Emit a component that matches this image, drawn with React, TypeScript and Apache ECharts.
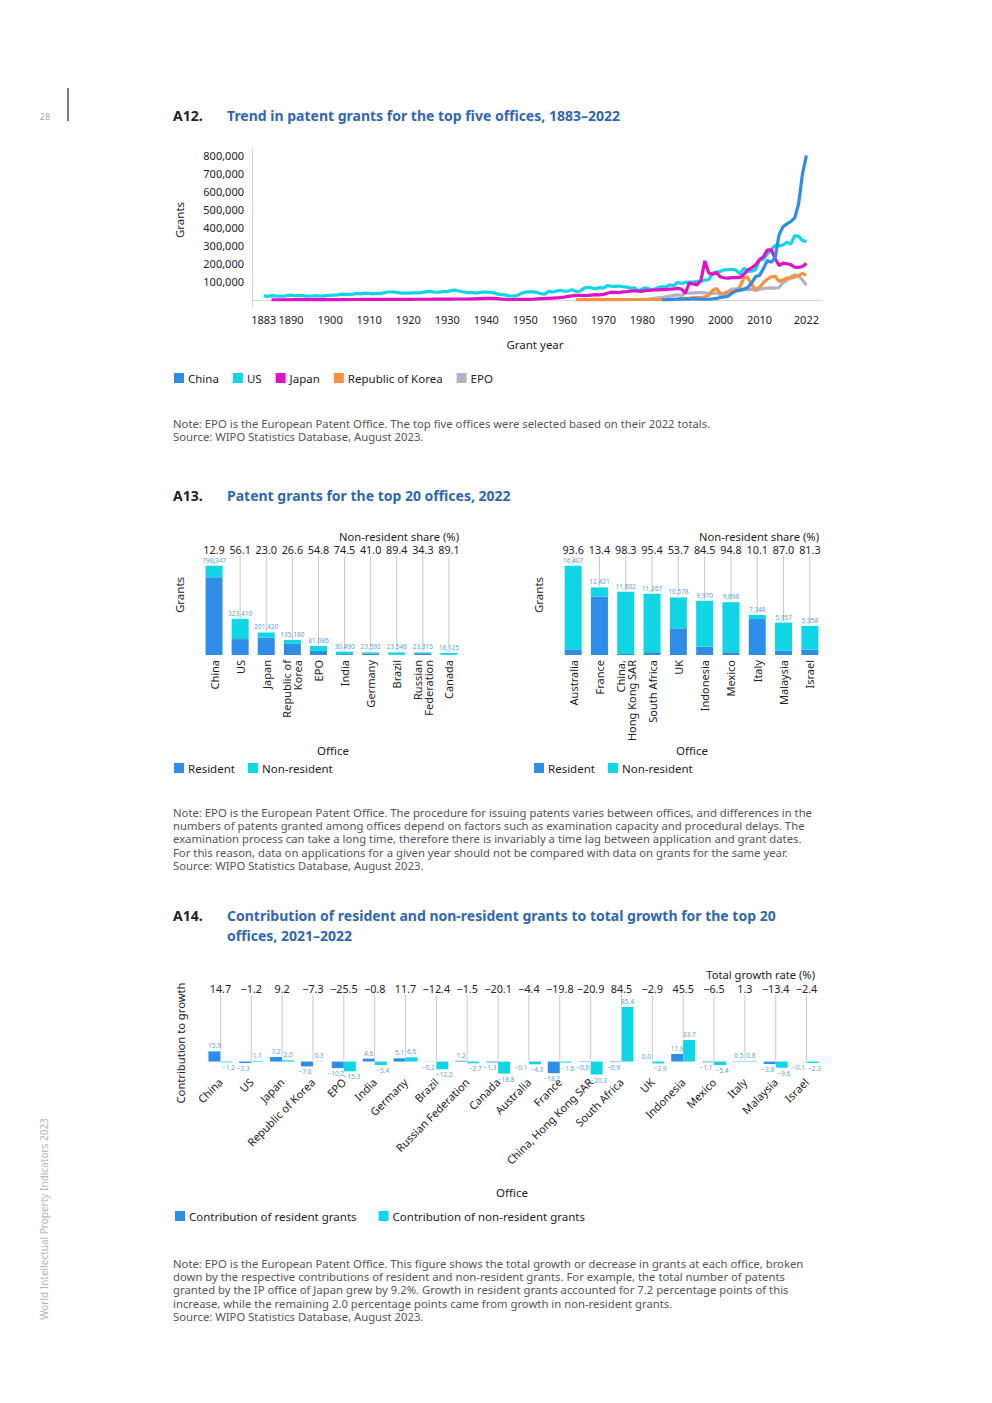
import React, { useEffect, useRef } from 'react';
import * as echarts from 'echarts';

const FONT = "'Noto Sans', 'Open Sans', sans-serif";
const C_BLUE = '#2e8de6';
const C_CYAN = '#10d5e5';
const C_MAG = '#e011c6';
const C_ORANGE = '#f7913f';
const C_GREY = '#b3b3c8';
const C_TITLE = '#2f67b1';
const C_LABEL = '#5a9fdc';
const C_GUIDE = '#c8c8c8';

// ---------- A12 data: [year, grants] ----------
const usGrants: [number, number][] = [
  [1883, 21200], [1884, 19100], [1885, 23300], [1886, 21800], [1887, 20400], [1888, 19500], [1889, 23300],
  [1890, 25300], [1891, 22300], [1892, 22600], [1893, 22800], [1894, 19900], [1895, 20900], [1896, 21800],
  [1897, 22100], [1898, 20400], [1899, 23300], [1900, 24600], [1901, 25500], [1902, 27100], [1903, 31000],
  [1904, 30300], [1905, 29700], [1906, 31100], [1907, 35900], [1908, 32800], [1909, 36600], [1910, 35100],
  [1911, 32900], [1912, 36200], [1913, 33900], [1914, 39900], [1915, 43100], [1916, 43900], [1917, 40900],
  [1918, 38500], [1919, 36800], [1920, 37100], [1921, 37800], [1922, 38400], [1923, 38600], [1924, 42600],
  [1925, 46400], [1926, 44700], [1927, 41700], [1928, 42400], [1929, 45300], [1930, 45200], [1931, 51800],
  [1932, 53500], [1933, 48800], [1934, 44400], [1935, 40600], [1936, 39800], [1937, 37700], [1938, 38100],
  [1939, 43100], [1940, 42200], [1941, 41100], [1942, 38500], [1943, 31100], [1944, 28100], [1945, 25700],
  [1946, 21800], [1947, 20100], [1948, 24000], [1949, 35100], [1950, 43000], [1951, 44300], [1952, 43600],
  [1953, 40500], [1954, 33800], [1955, 30400], [1956, 46800], [1957, 42700], [1958, 48300], [1959, 52400],
  [1960, 47200], [1961, 48400], [1962, 55700], [1963, 45700], [1964, 47400], [1965, 62900], [1966, 68400],
  [1967, 65700], [1968, 59100], [1969, 67600], [1970, 64400], [1971, 78300], [1972, 74800], [1973, 74100],
  [1974, 76300], [1975, 72000], [1976, 70200], [1977, 65300], [1978, 66100], [1979, 48900], [1980, 61800],
  [1981, 65800], [1982, 57900], [1983, 56900], [1984, 67200], [1985, 71700], [1986, 70900], [1987, 82900],
  [1988, 77900], [1989, 95500], [1990, 90400], [1991, 96500], [1992, 97400], [1993, 98300], [1994, 101700],
  [1995, 101400], [1996, 109600], [1997, 111900], [1998, 147500], [1999, 153500], [2000, 157500],
  [2001, 166000], [2002, 167300], [2003, 169000], [2004, 164300], [2005, 143800], [2006, 173800],
  [2007, 157300], [2008, 157800], [2009, 167300], [2010, 219600], [2011, 224500], [2012, 253200],
  [2013, 277800], [2014, 300700], [2015, 298400], [2016, 303000], [2017, 318800], [2018, 307800],
  [2019, 354400], [2020, 352000], [2021, 327300], [2022, 323410],
];

const jpGrants: [number, number][] = [
  [1885, 100], [1888, 200], [1890, 400], [1893, 500], [1896, 600], [1900, 1000], [1903, 1200], [1906, 1500],
  [1910, 2000], [1913, 1800], [1916, 1900], [1920, 2500], [1923, 2800], [1926, 3200], [1930, 4000],
  [1933, 4200], [1936, 4500], [1938, 6000], [1940, 8000], [1942, 7500], [1944, 4000], [1946, 1500],
  [1948, 1800], [1950, 2500], [1952, 4000], [1954, 6000], [1956, 8000], [1958, 10000], [1960, 15000],
  [1961, 19000], [1962, 22000], [1963, 24000], [1964, 25000], [1965, 23000], [1966, 24000], [1967, 26000],
  [1968, 28000], [1969, 27000], [1970, 30000], [1971, 36000], [1972, 42000], [1973, 41000], [1974, 40000],
  [1975, 44000], [1976, 45000], [1977, 48000], [1978, 50000], [1979, 48000], [1980, 47000], [1981, 52000],
  [1982, 52000], [1983, 54000], [1984, 55000], [1985, 56000], [1986, 57000], [1987, 59000], [1988, 60000],
  [1989, 63300], [1990, 59400], [1991, 36100], [1992, 92100], [1993, 88400], [1994, 82400], [1995, 109100],
  [1996, 215100], [1997, 147700], [1998, 141400], [1999, 150100], [2000, 125900], [2001, 121700],
  [2002, 120000], [2003, 122500], [2004, 124200], [2005, 122900], [2006, 141400], [2007, 165000],
  [2008, 177000], [2009, 193300], [2010, 222700], [2011, 238300], [2012, 274800], [2013, 277100],
  [2014, 227100], [2015, 189400], [2016, 203100], [2017, 199600], [2018, 194500], [2019, 179900],
  [2020, 179400], [2021, 184400], [2022, 201420],
];

const cnGrants: [number, number][] = [
  [1985, 100], [1986, 500], [1987, 1000], [1988, 2500], [1989, 3500], [1990, 3838], [1991, 4122],
  [1992, 3966], [1993, 6556], [1994, 3883], [1995, 3393], [1996, 2976], [1997, 3494], [1998, 4733],
  [1999, 7637], [2000, 12683], [2001, 16296], [2002, 21473], [2003, 37154], [2004, 49360], [2005, 53305],
  [2006, 57786], [2007, 67948], [2008, 93706], [2009, 128489], [2010, 135110], [2011, 172113],
  [2012, 217105], [2013, 207688], [2014, 233228], [2015, 359316], [2016, 404208], [2017, 420144],
  [2018, 432147], [2019, 452804], [2020, 530127], [2021, 695946], [2022, 798347],
];

const krGrants: [number, number][] = [
  [1963, 300], [1966, 300], [1970, 500], [1975, 1000], [1980, 1632], [1985, 2268], [1987, 2762],
  [1989, 3972], [1990, 7762], [1991, 8248], [1992, 8552], [1993, 11446], [1994, 11683], [1995, 12512],
  [1996, 16516], [1997, 24579], [1998, 52900], [1999, 62635], [2000, 35956], [2001, 34675], [2002, 45298],
  [2003, 44165], [2004, 49068], [2005, 73512], [2006, 120790], [2007, 123705], [2008, 83523],
  [2009, 56732], [2010, 68843], [2011, 94720], [2012, 113467], [2013, 127330], [2014, 129786],
  [2015, 101873], [2016, 108875], [2017, 120662], [2018, 119012], [2019, 125795], [2020, 134766],
  [2021, 145882], [2022, 135180],
];

const epGrants: [number, number][] = [
  [1980, 0], [1981, 1700], [1982, 4900], [1983, 8000], [1984, 11000], [1985, 12000], [1986, 16000],
  [1987, 20000], [1988, 24000], [1989, 28000], [1990, 24757], [1991, 36000], [1992, 37000], [1993, 37000],
  [1994, 40000], [1995, 40000], [1996, 39000], [1997, 36000], [1998, 35000], [1999, 38000], [2000, 27000],
  [2001, 34000], [2002, 47000], [2003, 60000], [2004, 59000], [2005, 53000], [2006, 62000], [2007, 54000],
  [2008, 59000], [2009, 52000], [2010, 58000], [2011, 62000], [2012, 65000], [2013, 66000], [2014, 64000],
  [2015, 68000], [2016, 96000], [2017, 106000], [2018, 128000], [2019, 138000], [2020, 133000],
  [2021, 109000], [2022, 81086],
];

const a12YearTicks = [1883, 1890, 1900, 1910, 1920, 1930, 1940, 1950, 1960, 1970, 1980, 1990, 2000, 2010, 2022];
const a12GrantTicks = [100000, 200000, 300000, 400000, 500000, 600000, 700000, 800000];

// ---------- A13 data ----------
const a13LeftOffices = ['China', 'US', 'Japan', 'Republic of\nKorea', 'EPO', 'India', 'Germany', 'Brazil', 'Russian\nFederation', 'Canada'];
const a13LeftTotals = [798347, 323410, 201420, 135180, 81086, 30490, 23592, 23546, 23315, 18125];
const a13LeftShares = [12.9, 56.1, 23.0, 26.6, 54.8, 74.5, 41.0, 89.4, 34.3, 89.1];

const a13RightOffices = ['Australia', 'France', 'China,\nHong Kong SAR', 'South Africa', 'UK', 'Indonesia', 'Mexico', 'Italy', 'Malaysia', 'Israel'];
const a13RightTotals = [16407, 12421, 11602, 11267, 10578, 9970, 9698, 7348, 5957, 5358];
const a13RightShares = [93.6, 13.4, 98.3, 95.4, 53.7, 84.5, 94.8, 10.1, 87.0, 81.3];

// ---------- A14 data ----------
const a14Offices = ['China', 'US', 'Japan', 'Republic of Korea', 'EPO', 'India', 'Germany', 'Brazil', 'Russian Federation', 'Canada',
  'Australia', 'France', 'China, Hong Kong SAR', 'South Africa', 'UK', 'Indonesia', 'Mexico', 'Italy', 'Malaysia', 'Israel'];
const a14Total = [14.7, -1.2, 9.2, -7.3, -25.5, -0.8, 11.7, -12.4, -1.5, -20.1, -4.4, -19.8, -20.9, 84.5, -2.9, 45.5, -6.5, 1.3, -13.4, -2.4];
const a14Resident = [15.9, -2.3, 7.2, -7.6, -10.2, 4.6, 5.1, -0.2, 1.2, -1.3, -0.1, -18.2, -0.6, -0.9, 0.0, 11.8, -1.1, 0.5, -3.8, -0.1];
const a14NonResident = [-1.2, 1.1, 2.0, 0.3, -15.3, -5.4, 6.6, -12.2, -2.7, -18.8, -4.3, -1.6, -20.3, 85.4, -2.9, 33.7, -5.4, 0.8, -9.6, -2.3];

// ---------- texts ----------
const note12 = 'Note: EPO is the European Patent Office. The top five offices were selected based on their 2022 totals.\nSource: WIPO Statistics Database, August 2023.';
const note13 = 'Note: EPO is the European Patent Office. The procedure for issuing patents varies between offices, and differences in the\nnumbers of patents granted among offices depend on factors such as examination capacity and procedural delays. The\nexamination process can take a long time, therefore there is invariably a time lag between application and grant dates.\nFor this reason, data on applications for a given year should not be compared with data on grants for the same year.\nSource: WIPO Statistics Database, August 2023.';
const note14 = 'Note: EPO is the European Patent Office. This figure shows the total growth or decrease in grants at each office, broken\ndown by the respective contributions of resident and non-resident grants. For example, the total number of patents\ngranted by the IP office of Japan grew by 9.2%. Growth in resident grants accounted for 7.2 percentage points of this\nincrease, while the remaining 2.0 percentage points came from growth in non-resident grants.\nSource: WIPO Statistics Database, August 2023.';

const fmtInt = (v: number) => Math.round(v).toLocaleString('en-US');
const fmtPct = (v: number) => (v < 0 ? '\u2212' : '') + Math.abs(v).toFixed(1);

function txt(text: string, x: number, y: number, style: any = {}, rotation = 0) {
  return {
    type: 'text', x, y, rotation, silent: true,
    style: { text, fontFamily: FONT, fontSize: 11, fill: '#222', align: 'left', verticalAlign: 'middle', ...style },
  };
}

function shareSeries(name: string, idx: number, totals: number[], shares: number[]) {
  return {
    type: 'custom', name, xAxisIndex: idx, yAxisIndex: idx, z: 1, silent: true,
    encode: { x: 0, y: 1 },
    data: totals.map((t, i) => [i, t, shares[i]]),
    renderItem: (params: any, api: any) => {
      const p = api.coord([api.value(0), api.value(1)]);
      const cs = params.coordSys;
      return {
        type: 'group',
        children: [
          { type: 'line', shape: { x1: p[0], y1: cs.y, x2: p[0], y2: p[1] - 1 }, style: { stroke: C_GUIDE, lineWidth: 1 } },
          { type: 'text', x: p[0], y: cs.y - 7, style: { text: Number(api.value(2)).toFixed(1), fontFamily: FONT, fontSize: 10.8, fill: '#222', align: 'center', verticalAlign: 'middle' } },
        ],
      };
    },
  };
}

function a13Bars(idx: number, offices: string[], totals: number[], shares: number[]) {
  const res = totals.map((t, i) => t * (1 - shares[i] / 100));
  const non = totals.map((t, i) => t * shares[i] / 100);
  return [
    {
      type: 'bar', name: 'Resident', xAxisIndex: idx, yAxisIndex: idx, stack: 's' + idx, barWidth: 17,
      itemStyle: { color: C_BLUE }, data: res, z: 2,
    },
    {
      type: 'bar', name: 'Non-resident', xAxisIndex: idx, yAxisIndex: idx, stack: 's' + idx, barWidth: 17,
      itemStyle: { color: C_CYAN }, data: non, z: 2,
      label: {
        show: true, position: 'top', distance: 2, fontFamily: FONT, fontSize: 6.5, color: C_LABEL,
        formatter: (p: any) => fmtInt(totals[p.dataIndex]),
      },
    },
    shareSeries('share' + idx, idx, totals, shares),
  ];
}

function a14Bar(name: string, vals: number[], color: string, dx: number) {
  return {
    type: 'bar', name, xAxisIndex: 3, yAxisIndex: 3, barWidth: 12, barGap: '0%', z: 2,
    itemStyle: { color },
    data: vals.map((v) => ({
      value: v,
      label: { position: v < 0 ? 'bottom' : 'top', offset: [v < 0 ? dx : 0, 0] },
    })),
    label: {
      show: true, distance: 2, fontFamily: FONT, fontSize: 6.5, color: C_LABEL,
      formatter: (p: any) => fmtPct(p.value),
    },
  };
}

function buildOption(): any {
  const catAxis = (gi: number, data: string[], rotate: number, margin: number) => ({
    type: 'category', gridIndex: gi, data,
    axisLine: { show: false }, axisTick: { show: false },
    axisLabel: { interval: 0, rotate, margin, fontFamily: FONT, fontSize: 11, color: '#222', lineHeight: 11 },
  });
  const hiddenY = (gi: number, min: number, max: number) => ({
    type: 'value', gridIndex: gi, min, max, show: false, splitLine: { show: false },
  });

  const lineSeries = (name: string, data: [number, number][], color: string) => ({
    type: 'line', name, data, xAxisIndex: 0, yAxisIndex: 0, symbol: 'none', showSymbol: false,
    lineStyle: { width: 3.2, color }, itemStyle: { color }, emphasis: { disabled: true },
  });

  const legendBase = {
    itemWidth: 10, itemHeight: 10, icon: 'rect', padding: 0,
    textStyle: { fontFamily: FONT, fontSize: 11.5, color: '#222', padding: [0, 0, 0, -1] },
    selectedMode: false,
  };

  return {
    animation: false,
    backgroundColor: '#ffffff',
    textStyle: { fontFamily: FONT },
    grid: [
      { left: 252, top: 148, width: 570, height: 159 },
      { left: 201, top: 556, width: 261, height: 99 },
      { left: 560, top: 556, width: 263, height: 99 },
      { left: 205, top: 995, width: 617, height: 80 },
    ],
    xAxis: [
      {
        type: 'value', gridIndex: 0, min: 1880, max: 2026, splitLine: { show: false },
        axisLine: { show: true, lineStyle: { color: '#d4d4d4' } }, axisTick: { show: false },
        axisLabel: { customValues: a12YearTicks, fontFamily: FONT, fontSize: 11, color: '#222', margin: 7, formatter: (v: number) => String(v) },
      },
      catAxis(1, a13LeftOffices, 90, 5),
      catAxis(2, a13RightOffices, 90, 5),
      catAxis(3, a14Offices, 45, 5),
    ],
    yAxis: [
      {
        type: 'value', gridIndex: 0, min: -40000, max: 840000, splitLine: { show: false },
        axisLine: { show: true, lineStyle: { color: '#d4d4d4' } }, axisTick: { show: false },
        axisLabel: { customValues: a12GrantTicks, fontFamily: FONT, fontSize: 11, color: '#222', margin: 8, formatter: (v: number) => fmtInt(v) },
      },
      hiddenY(1, 0, 885000),
      hiddenY(2, 0, 18190),
      hiddenY(3, -21, 104),
    ],
    legend: [
      { ...legendBase, left: 174, top: 372, itemGap: 14, data: ['China', 'US', 'Japan', 'Republic of Korea', 'EPO'] },
      { ...legendBase, left: 174, top: 762, itemGap: 13, data: ['Resident', 'Non-resident'] },
      { ...legendBase, left: 534, top: 762, itemGap: 13, data: ['Resident', 'Non-resident'] },
      { ...legendBase, left: 175, top: 1210, itemGap: 22, data: ['Contribution of resident grants', 'Contribution of non-resident grants'] },
    ],
    series: [
      lineSeries('US', usGrants, C_CYAN),
      lineSeries('EPO', epGrants, C_GREY),
      lineSeries('Republic of Korea', krGrants, C_ORANGE),
      lineSeries('Japan', jpGrants, C_MAG),
      lineSeries('China', cnGrants, C_BLUE),
      ...a13Bars(1, a13LeftOffices, a13LeftTotals, a13LeftShares),
      ...a13Bars(2, a13RightOffices, a13RightTotals, a13RightShares),
      a14Bar('Contribution of resident grants', a14Resident, C_BLUE, -2),
      a14Bar('Contribution of non-resident grants', a14NonResident, C_CYAN, 2),
      {
        type: 'custom', name: 'total', xAxisIndex: 3, yAxisIndex: 3, z: 1, silent: true,
        encode: { x: 0, y: 1 },
        data: a14Total.map((t, i) => [i, Math.max(0, a14Resident[i], a14NonResident[i]), t]),
        renderItem: (params: any, api: any) => {
          const p = api.coord([api.value(0), api.value(1)]);
          const cs = params.coordSys;
          return {
            type: 'group',
            children: [
              { type: 'line', shape: { x1: p[0], y1: cs.y, x2: p[0], y2: p[1] - 1 }, style: { stroke: C_GUIDE, lineWidth: 1 } },
              { type: 'text', x: p[0], y: cs.y - 7, style: { text: fmtPct(Number(api.value(2))), fontFamily: FONT, fontSize: 10.8, fill: '#222', align: 'center', verticalAlign: 'middle' } },
            ],
          };
        },
      },
    ],
    graphic: [
      txt('28', 45, 116, { fontSize: 9, fill: '#a8a8a8', align: 'center' }),
      { type: 'line', silent: true, shape: { x1: 68, y1: 88, x2: 68, y2: 121 }, style: { stroke: '#222', lineWidth: 1.2 } },
      txt('World Intellectual Property Indicators 2023', 44, 1219, { fontSize: 10, fill: '#b4b4b4', align: 'center' }, Math.PI / 2),

      // A12
      txt('A12.', 173, 115, { fontSize: 14, fontWeight: 'bold', fill: '#222' }),
      txt('Trend in patent grants for the top five offices, 1883\u20132022', 227, 115, { fontSize: 14, fontWeight: 'bold', fill: C_TITLE }),
      txt('Grants', 179, 220, { fontSize: 11.5, align: 'center' }, Math.PI / 2),
      txt('Grant year', 535, 344, { fontSize: 11.5, align: 'center' }),
      txt(note12, 173, 416.5, { fontSize: 11.3, fill: '#555', verticalAlign: 'top', lineHeight: 13.3 }),

      // A13
      txt('A13.', 173, 495, { fontSize: 14, fontWeight: 'bold', fill: '#222' }),
      txt('Patent grants for the top 20 offices, 2022', 227, 495, { fontSize: 14, fontWeight: 'bold', fill: C_TITLE }),
      txt('Non-resident share (%)', 459, 536, { fontSize: 11.2, align: 'right' }),
      txt('Non-resident share (%)', 819, 536, { fontSize: 11.2, align: 'right' }),
      txt('Grants', 179, 595, { fontSize: 11.5, align: 'center' }, Math.PI / 2),
      txt('Grants', 538, 595, { fontSize: 11.5, align: 'center' }, Math.PI / 2),
      txt('Office', 333, 750, { fontSize: 11.5, align: 'center' }),
      txt('Office', 692, 750, { fontSize: 11.5, align: 'center' }),
      txt(note13, 173, 805.5, { fontSize: 11.3, fill: '#555', verticalAlign: 'top', lineHeight: 13.3 }),

      // A14
      txt('A14.', 173, 915, { fontSize: 14, fontWeight: 'bold', fill: '#222' }),
      txt('Contribution of resident and non-resident grants to total growth for the top 20\noffices, 2021\u20132022', 227, 905, { fontSize: 14, fontWeight: 'bold', fill: C_TITLE, verticalAlign: 'top', lineHeight: 20 }),
      txt('Total growth rate (%)', 815, 974, { fontSize: 11.2, align: 'right' }),
      txt('Contribution to growth', 180, 1043, { fontSize: 11.2, align: 'center' }, Math.PI / 2),
      txt('Office', 512, 1192, { fontSize: 11.5, align: 'center' }),
      txt(note14, 173, 1256.5, { fontSize: 11.3, fill: '#555', verticalAlign: 'top', lineHeight: 13.3 }),
    ],
  };
}

export default function App() {
  const ref = useRef<HTMLDivElement>(null);
  useEffect(() => {
    if (!ref.current) return;
    const chart = echarts.init(ref.current, null, { renderer: 'svg' });
    chart.setOption(buildOption());
    return () => chart.dispose();
  }, []);
  return (
    <div
      ref={ref}
      style={{ position: 'absolute', left: 0, top: 0, width: 992, height: 1403, background: '#fff' }}
    />
  );
}
